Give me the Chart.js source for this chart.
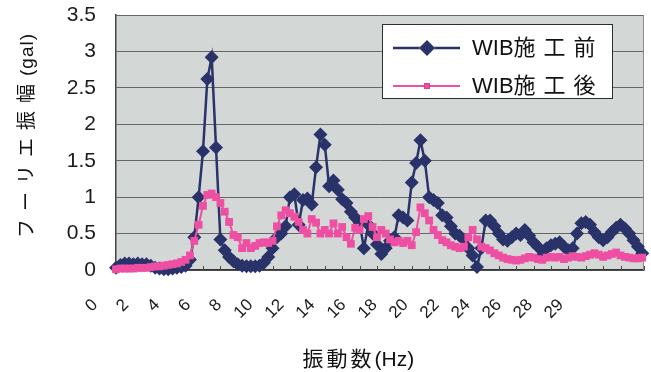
<!DOCTYPE html>
<html>
<head>
<meta charset="utf-8">
<script src="https://cdn.jsdelivr.net/npm/chart.js@4/dist/chart.umd.min.js"></script>
<style>
  html, body { margin: 0; padding: 0; background: #ffffff; }
  #wrap { position: relative; width: 651px; height: 372px; }
</style>
</head>
<body>
<div id="wrap"><canvas id="chart" width="651" height="372"></canvas></div>
<script>
// Fourier amplitude spectra, before / after WIB installation
const seriesNames = ['WIB施工前', 'WIB施工後'];
const binWidth = 0.25; // Hz between spectral lines

const before = [
  0.03, 0.07, 0.09, 0.09, 0.08, 0.09, 0.08, 0.08,
  0.06, 0.03, 0.02, 0.01, 0.01, 0.02, 0.03, 0.04,
  0.06, 0.14, 0.45, 1.0, 1.63, 2.62, 2.92, 1.68,
  0.42, 0.27, 0.18, 0.12, 0.08, 0.06, 0.05, 0.05,
  0.05, 0.06, 0.1, 0.18, 0.3, 0.45, 0.5, 0.6,
  1.0, 1.04, 0.62, 0.96, 0.98, 0.9, 1.41, 1.86,
  1.72, 1.15, 1.23, 1.1, 0.97, 0.92, 0.8, 0.72,
  0.65, 0.3, 0.62, 0.5, 0.35, 0.22, 0.3, 0.4,
  0.45, 0.75, 0.72, 0.68, 1.2, 1.47, 1.78, 1.5,
  1.0, 0.96, 0.92, 0.75, 0.72, 0.6, 0.5, 0.47,
  0.42, 0.3, 0.2, 0.04, 0.3, 0.68, 0.68, 0.6,
  0.5, 0.42, 0.4, 0.45, 0.5, 0.48, 0.55, 0.47,
  0.38, 0.32, 0.2, 0.3, 0.34, 0.36, 0.38, 0.32,
  0.27, 0.3, 0.5, 0.64, 0.66, 0.62, 0.52, 0.45,
  0.41, 0.45, 0.52, 0.58, 0.62, 0.57, 0.5, 0.41,
  0.32, 0.23
];

const after = [
  0.01, 0.02, 0.02, 0.02, 0.02, 0.03, 0.03, 0.03,
  0.04, 0.05, 0.05, 0.06, 0.07, 0.08, 0.09, 0.11,
  0.14, 0.2, 0.4, 0.62, 0.88, 1.03, 1.05, 1.0,
  0.92, 0.8, 0.66, 0.48, 0.45, 0.3, 0.37, 0.3,
  0.33, 0.37, 0.38, 0.37, 0.4, 0.6, 0.75, 0.82,
  0.78, 0.73, 0.66, 0.55, 0.5, 0.7, 0.65, 0.5,
  0.55, 0.5, 0.64, 0.5, 0.59, 0.45, 0.36, 0.58,
  0.55, 0.7, 0.74, 0.59, 0.45, 0.55, 0.5, 0.42,
  0.38, 0.4, 0.37, 0.4, 0.34, 0.52, 0.86, 0.78,
  0.68, 0.55, 0.48, 0.41, 0.38, 0.34, 0.32, 0.3,
  0.32, 0.45, 0.55, 0.42, 0.32, 0.3, 0.27, 0.23,
  0.2, 0.17, 0.15, 0.14, 0.13, 0.14, 0.16, 0.18,
  0.17, 0.15, 0.14, 0.17, 0.18, 0.17, 0.18, 0.15,
  0.17, 0.19, 0.18, 0.17, 0.19, 0.21, 0.23, 0.21,
  0.18, 0.2, 0.22, 0.24, 0.2, 0.18, 0.17, 0.16,
  0.16, 0.17
];

const xTickLabels = ['0', '2', '4', '6', '8', '10', '12', '14', '16', '18', '20', '22', '24', '26', '28', '29'];
const xTitle = '振動数(Hz)';
const yTitle = 'フーリエ振幅(gal)';

const freq = before.map((_, i) => i * binWidth);

const NAVY = '#29336a';
const PINK = '#ee4fa2';
const FONT = '"Liberation Sans", Arial, "Noto Sans CJK JP", sans-serif';

Chart.defaults.font.family = FONT;
Chart.defaults.color = '#1b1b1b';

// keep the plot rectangle fixed: scales reserve no extra edge padding
function noEdgePadding(scale) {
  scale.paddingLeft = 0;
  scale.paddingRight = 0;
  scale.paddingTop = 0;
  scale.paddingBottom = 0;
}

// draws text, spacing CJK characters wider than Latin ones
function spacedText(ctx, text, x, y, cjkGap, latinGap) {
  let cx = x;
  for (const ch of text) {
    ctx.fillText(ch, cx, y);
    const wide = /[^\x00-\x7f]/.test(ch);
    cx += ctx.measureText(ch).width + (wide ? cjkGap : latinGap);
  }
  return cx - x;
}
function spacedWidth(ctx, text, cjkGap, latinGap) {
  let w = 0;
  for (const ch of text) {
    const wide = /[^\x00-\x7f]/.test(ch);
    w += ctx.measureText(ch).width + (wide ? cjkGap : latinGap);
  }
  return w;
}

// grey plot area, right frame line and inward tick marks
const plotFrame = {
  id: 'plotFrame',
  beforeDraw(chart) {
    const { ctx, chartArea: a } = chart;
    ctx.save();
    ctx.fillStyle = '#d3d7d6';
    ctx.fillRect(a.left, a.top, a.right - a.left, a.bottom - a.top);
    ctx.restore();
  },
  beforeDatasetsDraw(chart) {
    const { ctx, chartArea: a, scales } = chart;
    ctx.save();
    ctx.strokeStyle = '#8c8c8c';
    ctx.lineWidth = 1;
    ctx.beginPath();
    ctx.moveTo(Math.round(a.right) - 0.5, a.top);
    ctx.lineTo(Math.round(a.right) - 0.5, a.bottom);
    ctx.stroke();
    ctx.strokeStyle = '#4a4a4a';
    ctx.beginPath();
    scales.x.ticks.forEach(t => {
      const px = Math.round(scales.x.getPixelForValue(t.value)) + 0.5;
      ctx.moveTo(px, a.bottom);
      ctx.lineTo(px, a.bottom - 4);
    });
    ctx.stroke();
    ctx.restore();
  }
};

// boxed legend in the upper right of the plot
const legendBox = {
  id: 'legendBox',
  afterDraw(chart) {
    const { ctx, chartArea: a } = chart;
    const x0 = Math.round(a.right) - 262, y0 = Math.round(a.top) + 9, w = 231, h = 75;
    ctx.save();
    ctx.fillStyle = '#ffffff';
    ctx.fillRect(x0, y0, w, h);
    ctx.strokeStyle = '#2e2e2e';
    ctx.lineWidth = 1;
    ctx.strokeRect(x0 + 0.5, y0 + 0.5, w - 1, h - 1);
    chart.data.datasets.forEach((ds, i) => {
      const cy = y0 + 24 + i * 38;
      ctx.strokeStyle = ds.borderColor;
      ctx.lineWidth = ds.borderWidth;
      ctx.beginPath();
      ctx.moveTo(x0 + 11, cy);
      ctx.lineTo(x0 + 78, cy);
      ctx.stroke();
      Chart.helpers.drawPoint(ctx, {
        pointStyle: ds.pointStyle,
        radius: i === 0 ? 8 : 4,
        rotation: 0,
        borderWidth: 0
      }, x0 + 45, cy);
      ctx.fillStyle = ds.backgroundColor;
      ctx.fill();
      ctx.fillStyle = '#111';
      ctx.font = '22px ' + FONT;
      ctx.textBaseline = 'middle';
      ctx.textAlign = 'left';
      spacedText(ctx, ds.label, x0 + 90, cy + 1, 8, 0);
    });
    ctx.restore();
  }
};

// axis titles
const axisTitles = {
  id: 'axisTitles',
  afterDraw(chart) {
    const { ctx, chartArea: a } = chart;
    ctx.save();
    ctx.fillStyle = '#111';
    ctx.textAlign = 'left';
    ctx.textBaseline = 'middle';
    ctx.font = '21px ' + FONT;
    const xw = spacedWidth(ctx, xTitle, 3, 0);
    spacedText(ctx, xTitle, a.left + (a.right - a.left) * 0.459 - xw / 2, 360, 3, 0);
    ctx.translate(28, (a.top + a.bottom) / 2 - 7);
    ctx.rotate(-Math.PI / 2);
    ctx.font = '19px ' + FONT;
    const yw = spacedWidth(ctx, yTitle, 8, 1);
    spacedText(ctx, yTitle, -yw / 2, 0, 8, 1);
    ctx.restore();
  }
};

new Chart(document.getElementById('chart'), {
  type: 'line',
  data: {
    datasets: [
      {
        label: seriesNames[0],
        data: freq.map((f, i) => ({ x: f, y: before[i] })),
        borderColor: NAVY,
        backgroundColor: NAVY,
        borderWidth: 2.5,
        pointStyle: 'rectRot',
        pointRadius: 7,
        pointBorderWidth: 0,
        pointBackgroundColor: NAVY,
        tension: 0,
        clip: false,
        order: 1
      },
      {
        label: seriesNames[1],
        data: freq.map((f, i) => ({ x: f, y: after[i] })),
        borderColor: PINK,
        backgroundColor: PINK,
        borderWidth: 2,
        pointStyle: 'rect',
        pointRadius: 5.5,
        pointBorderWidth: 0,
        pointBackgroundColor: PINK,
        tension: 0,
        clip: false,
        order: 0
      }
    ]
  },
  options: {
    responsive: false,
    animation: false,
    layout: { padding: { left: 0, right: 7, top: 15, bottom: 0 } },
    plugins: {
      legend: { display: false },
      tooltip: { enabled: false }
    },
    scales: {
      x: {
        type: 'linear',
        position: 'bottom',
        min: 0,
        max: 30.35,
        ticks: { display: false, stepSize: 1, autoSkip: false },
        grid: { display: false, drawTicks: false },
        border: { display: true, color: '#333', width: 1.5 },
        afterFit(scale) { scale.height = 0; noEdgePadding(scale); }
      },
      xl: {
        type: 'linear',
        position: 'bottom',
        min: 0,
        max: 17,
        ticks: {
          stepSize: 1,
          autoSkip: false,
          minRotation: 45,
          maxRotation: 45,
          labelOffset: -21,
          padding: 25,
          font: { size: 17 },
          callback: v => xTickLabels[v] ?? ''
        },
        grid: { display: false, drawTicks: false },
        border: { display: false },
        afterFit(scale) { scale.height = 102; noEdgePadding(scale); }
      },
      y: {
        min: 0,
        max: 3.5,
        ticks: {
          stepSize: 0.5,
          padding: 20,
          font: { size: 21 },
          callback: v => String(v)
        },
        grid: { color: '#666', lineWidth: 1, drawTicks: false },
        border: { color: '#444', width: 1.5 },
        afterFit(scale) { scale.width = 116; noEdgePadding(scale); }
      }
    }
  },
  plugins: [plotFrame, legendBox, axisTitles]
});
</script>
</body>
</html>
